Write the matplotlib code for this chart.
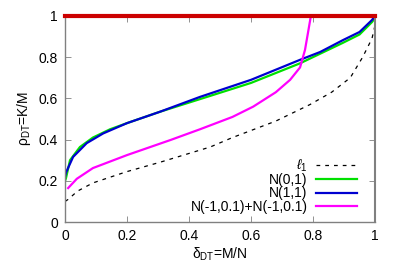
import matplotlib
matplotlib.use("Agg")
import matplotlib.pyplot as plt

# l1 weak threshold (dashed)
l1_x = [0.0, 0.01, 0.04, 0.09, 0.2, 0.306, 0.468, 0.54, 0.68, 0.79, 0.86, 0.92, 0.96, 0.99, 1.0]
l1_y = [0.10, 0.11, 0.15, 0.19, 0.245, 0.29, 0.364, 0.41, 0.49, 0.57, 0.63, 0.70, 0.80, 0.89, 0.955]

# N(0,1)
g_x = [0.0, 0.003, 0.016, 0.048, 0.09, 0.145, 0.2, 0.306, 0.468, 0.6, 0.758, 0.897, 0.95, 0.99, 1.0]
g_y = [0.20, 0.213, 0.30, 0.364, 0.41, 0.45, 0.48, 0.535, 0.612, 0.675, 0.77, 0.87, 0.91, 0.97, 0.99]

# N(1,1)
b_x = [0.0, 0.003, 0.026, 0.07, 0.123, 0.2, 0.306, 0.435, 0.6, 0.758, 0.823, 0.897, 0.95, 0.99, 1.0]
b_y = [0.22, 0.24, 0.316, 0.383, 0.43, 0.48, 0.535, 0.607, 0.69, 0.787, 0.825, 0.883, 0.922, 0.98, 1.0]

# N(-1,0.1)+N(-1,0.1)
m_x = [0.01, 0.038, 0.09, 0.2, 0.34, 0.435, 0.54, 0.607, 0.68, 0.726, 0.758, 0.774, 0.785, 0.793]
m_y = [0.165, 0.21, 0.262, 0.325, 0.398, 0.45, 0.51, 0.56, 0.63, 0.69, 0.75, 0.835, 0.93, 1.0]

# top line
r_x = [0.0, 1.0]
r_y = [1.0, 1.0]

ticks = [0, 0.2, 0.4, 0.6, 0.8, 1]
tick_labels = ["0", "0.2", "0.4", "0.6", "0.8", "1"]

BORDER = "#808080"

plt.rcParams.update({
    "font.family": ["Liberation Sans", "DejaVu Sans"],
    "font.size": 10,
    "mathtext.fontset": "custom",
    "mathtext.rm": "Liberation Sans",
    "mathtext.it": "Liberation Sans:italic",
})

fig = plt.figure(figsize=(3.99, 2.79), dpi=100)
ax = fig.add_axes([0.163, 0.204, 0.777, 0.739])

ax.plot(l1_x, l1_y, color="black", lw=0.9, ls=(0, (3, 4)), label=r"$\ell_1$")
ax.plot(g_x, g_y, color="#00e000", lw=1.6, label="N(0,1)")
ax.plot(b_x, b_y, color="#0000d0", lw=1.6, label="N(1,1)")
ax.plot(m_x, m_y, color="#ff00ff", lw=1.6, label="N(-1,0.1)+N(-1,0.1)")
ax.plot(r_x, r_y, color="#cc0000", lw=3.0, clip_on=False, zorder=5)

ax.set_xlim(0, 1)
ax.set_ylim(0, 1)
ax.set_xticks(ticks)
ax.set_xticklabels(tick_labels)
ax.set_yticks(ticks)
ax.set_yticklabels(tick_labels)
ax.tick_params(direction="in", length=4, width=0.6, color=BORDER,
               top=True, right=True, labelsize=10, pad=5)
for s in ax.spines.values():
    s.set_color(BORDER)
    s.set_linewidth(1.0)
ax.spines["right"].set_linewidth(1.5)

ax.set_xlabel("δ$_{\\mathregular{DT}}$=M/N", fontsize=10, labelpad=2)
ax.set_ylabel("ρ$_{\\mathregular{DT}}$=K/M", fontsize=10, labelpad=4)

ax.legend(loc="lower right", frameon=False, markerfirst=False, fontsize=10,
          handlelength=3.0, handletextpad=0.6, labelspacing=-0.05,
          borderaxespad=0.2, bbox_to_anchor=(0.97, 0.0))

fig.savefig("out.png", dpi=100)
